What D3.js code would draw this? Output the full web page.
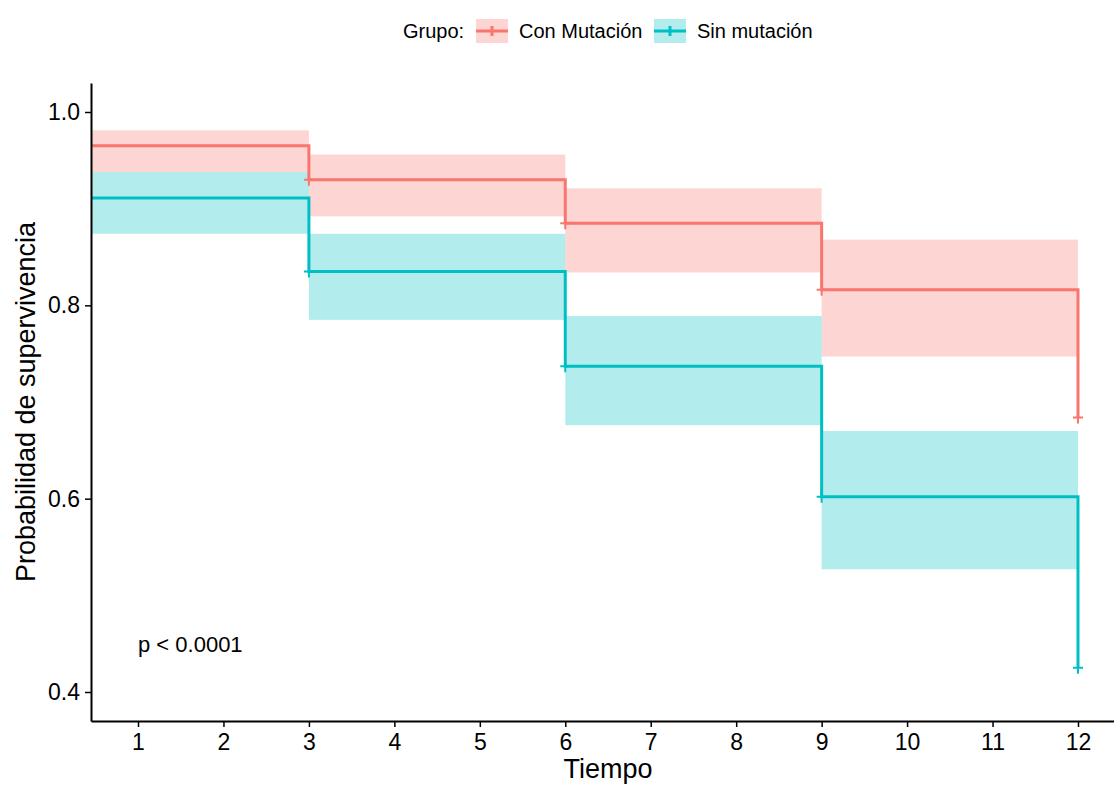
<!DOCTYPE html>
<html>
<head>
<meta charset="utf-8">
<script src="https://cdn.jsdelivr.net/npm/d3@7"></script>
<style>
  body { margin: 0; background: #fff; }
  svg text { font-family: "Liberation Sans", Arial, sans-serif; fill: #000; }
</style>
</head>
<body>
<svg id="km" width="1114" height="785"></svg>
<script>
// Kaplan-Meier values
const tiempos = [0, 3, 6, 9, 12]
const grupos = ['Con Mutación', 'Sin mutación']
const colores = ['#F8766D', '#00BFC4']

const survCon = [0.965, 0.930, 0.885, 0.816, 0.684]
const upperCon = [0.981, 0.956, 0.921, 0.868]
const lowerCon = [0.938, 0.892, 0.834, 0.747]

const survSin = [0.911, 0.835, 0.737, 0.602, 0.425]
const upperSin = [0.938, 0.874, 0.789, 0.670]
const lowerSin = [0.874, 0.785, 0.676, 0.527]

const censorTimes = [3, 6, 9, 12]
const xTicks = [1, 2, 3, 4, 5, 6, 7, 8, 9, 10, 11, 12]
const yTicks = [0.4, 0.6, 0.8, 1.0]
const pValue = 'p < 0.0001'

const series = [
  { name: grupos[0], color: colores[0], surv: survCon, upper: upperCon, lower: lowerCon },
  { name: grupos[1], color: colores[1], surv: survSin, upper: upperSin, lower: lowerSin }
]

const svg = d3.select('#km')
const plotLeft = 91, plotRight = 1125, plotTop = 83, plotBottom = 721

const x = d3.scaleLinear().domain([0.45, 12.55]).range([plotLeft, plotRight])
const y = d3.scaleLinear().domain([0.37, 1.03]).range([plotBottom, plotTop])

svg.append('clipPath').attr('id', 'plotArea')
  .append('rect')
  .attr('x', plotLeft).attr('y', plotTop)
  .attr('width', plotRight - plotLeft).attr('height', plotBottom - plotTop)

const plot = svg.append('g').attr('clip-path', 'url(#plotArea)')

// confidence bands, one rect per step
series.forEach((s) => {
  plot.append('g').selectAll('rect')
    .data(s.upper.map((u, i) => ({ t0: tiempos[i], t1: tiempos[i + 1], hi: u, lo: s.lower[i] })))
    .enter().append('rect')
    .attr('x', (d) => x(d.t0))
    .attr('width', (d) => x(d.t1) - x(d.t0))
    .attr('y', (d) => y(d.hi))
    .attr('height', (d) => y(d.lo) - y(d.hi))
    .attr('fill', s.color)
    .attr('fill-opacity', 0.3)
})

const step = d3.line()
  .x((d) => x(d[0]))
  .y((d) => y(d[1]))
  .curve(d3.curveStepAfter)

series.forEach((s) => {
  plot.append('path')
    .datum(tiempos.map((t, i) => [t, s.surv[i]]))
    .attr('d', step)
    .attr('fill', 'none')
    .attr('stroke', s.color)
    .attr('stroke-width', 3)

  // censor marks
  plot.append('g').selectAll('path')
    .data(censorTimes.map((t, i) => [t, s.surv[i + 1]]))
    .enter().append('path')
    .attr('d', (d) => `M${x(d[0]) - 5},${y(d[1])}h10M${x(d[0])},${y(d[1]) - 6}v12`)
    .attr('stroke', s.color)
    .attr('stroke-width', 2)
})

// axes
svg.append('g')
  .attr('transform', `translate(0,${plotBottom})`)
  .call(d3.axisBottom(x).tickValues(xTicks).tickSize(6).tickSizeOuter(0).tickPadding(7))
svg.append('g')
  .attr('transform', `translate(${plotLeft},0)`)
  .call(d3.axisLeft(y).tickValues(yTicks).tickFormat(d3.format('.1f')).tickSize(6).tickSizeOuter(0).tickPadding(5))

svg.selectAll('.domain').attr('stroke', '#000').attr('stroke-width', 2)
svg.selectAll('.tick line').attr('stroke', '#000').attr('stroke-width', 1.5)
svg.selectAll('.tick text').attr('font-size', 23).attr('font-family', '"Liberation Sans", Arial, sans-serif').attr('fill', '#000')

svg.append('text')
  .attr('x', (plotLeft + plotRight) / 2).attr('y', 778)
  .attr('text-anchor', 'middle').attr('font-size', 27)
  .text('Tiempo')
svg.append('text')
  .attr('transform', `translate(35,${(plotTop + plotBottom) / 2}) rotate(-90)`)
  .attr('text-anchor', 'middle').attr('font-size', 27)
  .text('Probabilidad de supervivencia')

svg.append('text')
  .attr('x', x(1)).attr('y', y(0.449)).attr('dy', '0.35em')
  .attr('font-size', 22)
  .text(pValue)

// legend
const legend = svg.append('g').attr('class', 'legend')
legend.append('text').attr('x', 403).attr('y', 31).attr('dy', '0.35em')
  .attr('font-size', 20).text('Grupo:')
const keyX = [476, 654]
series.forEach((s, i) => {
  const g = legend.append('g').attr('transform', `translate(${keyX[i]},19)`)
  g.append('rect').attr('width', 32).attr('height', 24)
    .attr('fill', s.color).attr('fill-opacity', 0.3)
  g.append('path').attr('d', 'M0,12h32M16,7v10')
    .attr('stroke', s.color).attr('stroke-width', 3)
  legend.append('text').attr('x', keyX[i] + 43).attr('y', 31).attr('dy', '0.35em')
    .attr('font-size', 20).text(s.name)
})
</script>
</body>
</html>
